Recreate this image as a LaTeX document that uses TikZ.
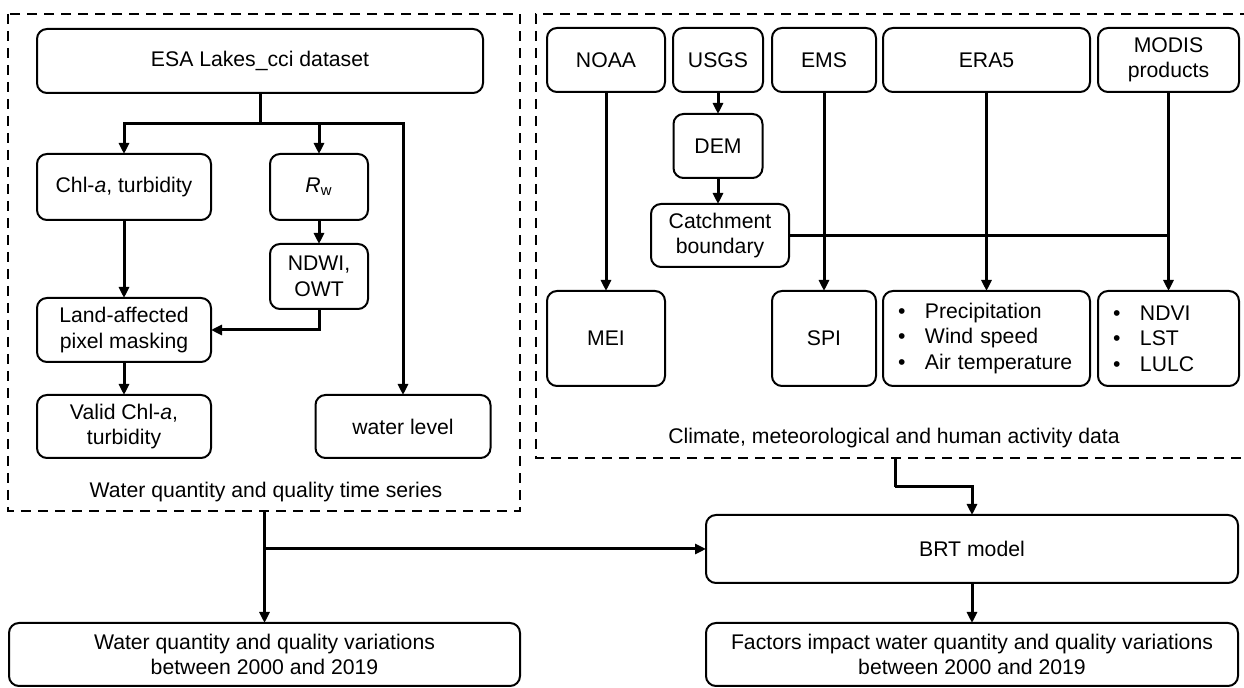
\documentclass[tikz,border=0pt]{standalone}
\usepackage{fontspec}
\setmainfont{Liberation Sans}
\usetikzlibrary{arrows.meta}
\newcommand{\bitem}{\makebox[13.5pt][l]{\textbullet}}
\begin{document}
\begin{tikzpicture}[x=0.5pt,y=-0.5pt,
  font=\fontsize{10.6}{12.8}\selectfont,
  box/.style={draw, rounded corners=5pt, line width=1pt, inner sep=0pt, outer sep=0pt, align=center},
  sz/.style 2 args={minimum width=#1*0.5pt, minimum height=#2*0.5pt},
  conn/.style={line width=1.5pt},
  arr/.style={conn, -{Triangle[length=5.5pt,width=5pt]}},
  dashbox/.style={line width=1.4pt, dash pattern=on 5pt off 3.5pt},
  lbl/.style={inner sep=0pt}]
\useasboundingbox (0,0) rectangle (1244,688);

% dashed frames
\draw[dashbox] (8,14) rectangle (520,511);
\draw[dashbox] (1250,14) -- (536,14) -- (536,458) -- (1250,458);

% left group
\node[box, sz={446}{64}] (esa) at (260,61) {ESA Lakes\_cci dataset};
\node[box, sz={174}{66}] (chl) at (124,187) {Chl-\textit{a}, turbidity};
\node[box, sz={98}{66}] (rw) at (319,187) {\textit{R}\textsubscript{w}};
\node[box, sz={98}{65}] (ndwi) at (319,276.5) {NDWI,\\OWT};
\node[box, sz={174}{64}] (land) at (124,330) {Land-affected\\pixel masking};
\node[box, sz={174}{63}] (valid) at (124,426.5) {Valid Chl-\textit{a},\\turbidity};
\node[box, sz={175}{63}] (wl) at (403,426.5) {water level};
\node[lbl] (ltitle) at (266,492) {Water quantity and quality time series};

% right group
\node[box, sz={118}{64}] (noaa) at (606,60) {NOAA};
\node[box, sz={90}{64}] (usgs) at (718,60) {USGS};
\node[box, sz={104}{64}] (ems) at (824,60) {EMS};
\node[box, sz={207}{64}] (era) at (986.5,60) {ERA5};
\node[box, sz={141}{64}] (modis) at (1168.5,60) {MODIS\\products};
\node[box, sz={89}{64}] (dem) at (718,146) {DEM};
\node[box, sz={138}{63}] (catch) at (720,235.5) {Catchment\\boundary};
\node[box, sz={118}{95}] (mei) at (606,338.5) {MEI};
\node[box, sz={104}{95}] (spi) at (824,338.5) {SPI};
\node[box, sz={207}{95}, text width=88.5pt, align=left] (met) at (986.5,338.5) {\bitem Precipitation\\\bitem Wind speed\\\bitem Air temperature};
\node[box, sz={141}{95}, text width=55.5pt, align=left] (lu) at (1168.5,338.5) {\bitem NDVI\\\bitem LST\\\bitem LULC};
\node[lbl] (rtitle) at (894,438) {Climate, meteorological and human activity data};

% bottom
\node[box, sz={532}{68}] (brt) at (972,549) {BRT model};
\node[box, sz={532}{63}] (fac) at (972,654.5) {Factors impact water quantity and quality variations\\between 2000 and 2019};
\node[box, sz={511}{63}] (var) at (264.5,654.5) {Water quantity and quality variations\\between 2000 and 2019};

% left connectors
\coordinate (jn) at (260,124);
\draw[conn] (esa.south) -- (jn);
\draw[arr] (jn) -| (chl.north);
\draw[arr] (jn) -| (rw.north);
\draw[arr] (jn) -| (wl.north);
\draw[arr] (rw) -- (ndwi);
\draw[arr] (chl) -- (land);
\draw[arr] (ndwi.south) |- (land.east);
\draw[arr] (land) -- (valid);

% right connectors
\draw[arr] (usgs.south) -- (usgs.south |- dem.north);
\draw[arr] (dem.south) -- (dem.south |- catch.north);
\draw[arr] (noaa) -- (mei);
\draw[arr] (ems) -- (spi);
\draw[arr] (era) -- (met);
\draw[arr] (modis) -- (lu);
\draw[conn] (catch.east) -- (catch.east -| lu.north);

% bottom connectors
\coordinate (lb) at (264.5,511);
\coordinate (lj) at (264.5,549);
\draw[arr] (lb) -- (var.north);
\draw[arr] (lj) -- (brt.west);
\coordinate (rb) at (895,458);
\coordinate (rk) at (895,487);
\draw[conn] (rb) -- (rk);
\draw[arr] (rk) -| (brt.north);
\draw[arr] (brt) -- (fac);
\end{tikzpicture}
\end{document}
